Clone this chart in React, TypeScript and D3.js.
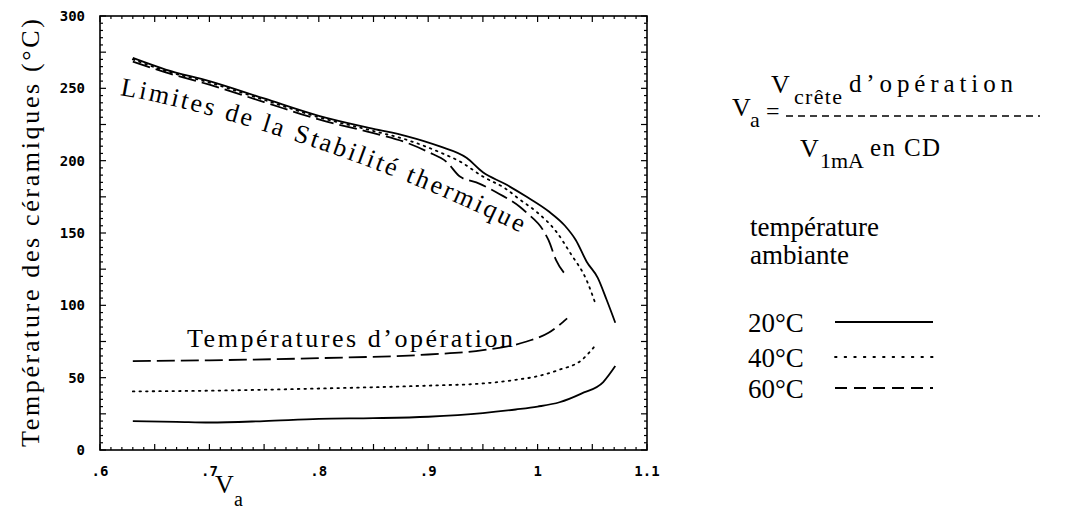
import React from 'react';
import * as d3 from 'd3';

// Limites de la stabilité thermique (Va, °C)
const limite20: [number, number][] = [
  [0.63, 271], [0.66, 263], [0.70, 255], [0.75, 243], [0.80, 231], [0.85, 222], [0.88, 217],
  [0.91, 210], [0.935, 202], [0.95, 192], [0.97, 184], [0.99, 175], [1.01, 165], [1.025, 155],
  [1.035, 145], [1.045, 130], [1.055, 119], [1.063, 104], [1.071, 88],
];
const limite40: [number, number][] = [
  [0.63, 270], [0.66, 262], [0.70, 254], [0.75, 242], [0.80, 230], [0.85, 220.5], [0.88, 214.5],
  [0.91, 206], [0.93, 199], [0.95, 189], [0.97, 181], [0.984, 173], [1.0, 164], [1.017, 151],
  [1.03, 136], [1.045, 117], [1.0525, 102],
];
const limite60: [number, number][] = [
  [0.63, 268.5], [0.66, 261], [0.70, 252.5], [0.75, 240.5], [0.80, 228.5], [0.85, 219], [0.88, 212.5],
  [0.90, 206], [0.917, 199], [0.929, 189], [0.944, 185], [0.965, 177], [0.984, 168], [0.99, 164],
  [1.005, 152], [1.01, 145], [1.017, 131], [1.027, 120],
];

// Températures d'opération
const operation20: [number, number][] = [
  [0.63, 20], [0.67, 19.5], [0.70, 19], [0.75, 20], [0.80, 21.5], [0.85, 22], [0.90, 23],
  [0.95, 25.5], [0.98, 28], [1.0, 30], [1.02, 33], [1.04, 39], [1.06, 47], [1.071, 58],
];
const operation40: [number, number][] = [
  [0.63, 40.5], [0.70, 41], [0.80, 42.5], [0.90, 44.5], [0.95, 46], [0.98, 48.5], [1.0, 51],
  [1.02, 55.5], [1.04, 62], [1.0525, 72],
];
const operation60: [number, number][] = [
  [0.63, 61.5], [0.70, 62], [0.80, 63.5], [0.90, 66], [0.95, 69], [0.99, 75], [1.01, 81], [1.027, 91],
];

const xTickValues = [0.6, 0.7, 0.8, 0.9, 1.0, 1.1];
const xTickLabels = ['.6', '.7', '.8', '.9', '1', '1.1'];
const yTickValues = [0, 50, 100, 150, 200, 250, 300];
const yTickLabels = ['0', '50', '100', '150', '200', '250', '300'];

const legendLabels = ['20°C', '40°C', '60°C'];
const dashStyles = ['none', '1.6,5', '18,6'];
const legendDash = ['none', '1.6,8', '12,7'];

const SERIF = '"Liberation Serif", "Times New Roman", serif';
const MONO = '"DejaVu Sans Mono", monospace';

export default function App() {
  const margin = { left: 100, top: 16, right: 1083 - 647, bottom: 516 - 450 };
  const width = 1083;
  const height = 516;

  const x = d3.scaleLinear().domain([0.6, 1.1]).range([margin.left, width - margin.right]);
  const y = d3.scaleLinear().domain([0, 300]).range([height - margin.bottom, margin.top]);

  const line = d3.line<[number, number]>()
    .x(d => x(d[0]))
    .y(d => y(d[1]))
    .curve(d3.curveMonotoneX);

  const limites = [limite20, limite40, limite60];
  const operations = [operation20, operation40, operation60];

  const x0 = x.range()[0], x1 = x.range()[1];
  const y0 = y.range()[0], y1 = y.range()[1];

  // minor ticks every 0.01 / 5°C, longer every 0.05 / 25°C
  const xMinor = d3.range(60, 111).map(i => ({ v: i / 100, major: i % 5 === 0 }));
  const yMinor = d3.range(0, 301, 5).map(v => ({ v, major: v % 25 === 0 }));

  return (
    <svg width={width} height={height} style={{ position: 'absolute', left: 0, top: 0, background: '#fff' }}>
      <rect x={0} y={0} width={width} height={height} fill="#fff" />

      {/* ticks, inward on all four sides */}
      <g stroke="#000" strokeWidth={1.2}>
        {xMinor.map((t, i) => {
          const len = t.major ? 6 : 3;
          return (
            <g key={'xt' + i}>
              <line x1={x(t.v)} x2={x(t.v)} y1={y0} y2={y0 - len} />
              <line x1={x(t.v)} x2={x(t.v)} y1={y1} y2={y1 + len} />
            </g>
          );
        })}
        {yMinor.map((t, i) => {
          const len = t.major ? 6 : 3;
          return (
            <g key={'yt' + i}>
              <line x1={x0} x2={x0 + len} y1={y(t.v)} y2={y(t.v)} />
              <line x1={x1} x2={x1 - len} y1={y(t.v)} y2={y(t.v)} />
            </g>
          );
        })}
      </g>
      <rect x={x0} y={y1} width={x1 - x0} height={y0 - y1} fill="none" stroke="#000" strokeWidth={1.6} />

      {/* tick labels */}
      <g fontFamily={MONO} fontWeight="bold" fontSize={14} fill="#000">
        {yTickValues.map((v, i) => (
          <text key={'yl' + i} x={x0 - 15} y={y(v)} dy="0.35em" textAnchor="end">{yTickLabels[i]}</text>
        ))}
        {xTickValues.map((v, i) => (
          <text key={'xl' + i} x={x(v)} y={y0 + 26} textAnchor="middle">{xTickLabels[i]}</text>
        ))}
      </g>

      {/* axis titles */}
      <text
        transform={`translate(39,${(y0 + y1) / 2}) rotate(-90)`}
        textAnchor="middle" fontFamily={SERIF} fontSize={26}
        textLength={428} lengthAdjust="spacing"
      >Température des céramiques (°C)</text>
      <text x={215} y={493} fontFamily={SERIF} fontSize={26}>V</text>
      <text x={234} y={506} fontFamily={SERIF} fontSize={20}>a</text>

      {/* curves */}
      <g fill="none" stroke="#000" strokeWidth={1.8}>
        {limites.map((s, i) => (
          <path key={'lim' + i} d={line(s) || ''} strokeDasharray={dashStyles[i]} strokeLinecap={i === 1 ? 'round' : 'butt'} />
        ))}
        {operations.map((s, i) => (
          <path key={'op' + i} d={line(s) || ''} strokeDasharray={dashStyles[i]} strokeLinecap={i === 1 ? 'round' : 'butt'} />
        ))}
      </g>

      {/* annotations */}
      <path id="limPath" d="M120,95 C220,112 400,170 530,238" fill="none" stroke="none" />
      <text fontFamily={SERIF} fontSize={26} letterSpacing={2.6}>
        <textPath href="#limPath">Limites de la Stabilité thermique</textPath>
      </text>
      <text x={187} y={347} fontFamily={SERIF} fontSize={26} textLength={326} lengthAdjust="spacing">
        Températures d’opération
      </text>

      {/* formula */}
      <g fontFamily={SERIF} fill="#000">
        <text x={771} y={93} fontSize={26}>V</text>
        <text x={794} y={104} fontSize={22} textLength={48} lengthAdjust="spacing">crête</text>
        <text x={849} y={92} fontSize={25} textLength={164} lengthAdjust="spacing">d’opération</text>
        <text x={732} y={116} fontSize={26}>V</text>
        <text x={750} y={127} fontSize={22}>a</text>
        <text x={766} y={119} fontSize={24}>=</text>
        <line x1={786} x2={1040} y1={116} y2={116} stroke="#000" strokeWidth={1.5} strokeDasharray="7,5" />
        <text x={800} y={157} fontSize={26}>V</text>
        <text x={820} y={168} fontSize={22} textLength={44} lengthAdjust="spacing">1mA</text>
        <text x={870} y={156} fontSize={25} textLength={70} lengthAdjust="spacing">en CD</text>
      </g>

      {/* legend */}
      <g fontFamily={SERIF} fontSize={27} fill="#000">
        <text x={750} y={236}>température</text>
        <text x={750} y={264}>ambiante</text>
        {legendLabels.map((lab, i) => {
          const ly = [322, 357, 388][i];
          return (
            <g key={'lg' + i}>
              <text x={748} y={ly + 10}>{lab}</text>
              <line x1={835} x2={933} y1={ly} y2={ly} stroke="#000" strokeWidth={1.8}
                strokeDasharray={legendDash[i]} strokeLinecap={i === 1 ? 'round' : 'butt'} />
            </g>
          );
        })}
      </g>
    </svg>
  );
}
